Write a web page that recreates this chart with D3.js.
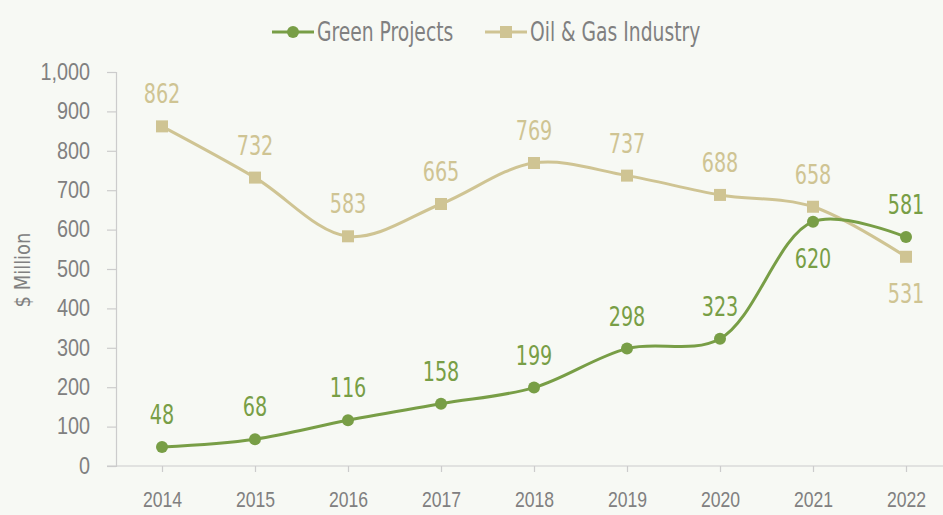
<!DOCTYPE html>
<html>
<head>
<meta charset="utf-8">
<script src="https://cdn.jsdelivr.net/npm/d3@7"></script>
<style>
  body { margin: 0; background: #f7f9f4; }
  svg { display: block; font-family: "Liberation Sans Narrow", "DejaVu Sans Condensed", sans-serif; }
</style>
</head>
<body>
<svg id="chart" width="943" height="515"></svg>
<script>
const years = ["2014", "2015", "2016", "2017", "2018", "2019", "2020", "2021", "2022"];
const green = [48, 68, 116, 158, 199, 298, 323, 620, 581];
const oil = [862, 732, 583, 665, 769, 737, 688, 658, 531];
const yTicks = [0, 100, 200, 300, 400, 500, 600, 700, 800, 900, 1000];

const greenColor = "#789e46";
const oilColor = "#cfc493";

const margin = { top: 72, left: 116, bottom: 49 };
const width = 943, height = 515;

const svg = d3.select("#chart");

// no condensed font like the original, so squeeze text horizontally
function squeeze(sel, k) {
  sel.each(function () {
    const w = this.getComputedTextLength();
    d3.select(this).attr("textLength", w * k).attr("lengthAdjust", "spacingAndGlyphs");
  });
}

const x = d3.scalePoint()
  .domain(years)
  .range([162, 906]);

const y = d3.scaleLinear()
  .domain([0, 1000])
  .range([466, 72]);

// axes
const yAxis = svg.append("g")
  .attr("transform", `translate(${margin.left},0)`)
  .call(d3.axisLeft(y).tickValues(yTicks).tickSize(9).tickPadding(17).tickFormat(d3.format(",")));
yAxis.select(".domain").attr("stroke", "#cccccc").attr("stroke-width", 1.2);
yAxis.selectAll(".tick line").attr("stroke", "#cccccc").attr("stroke-width", 1.2);
yAxis.selectAll("text").attr("fill", "#808080").style("font-size", "23px").call(squeeze, 0.86);

const xAxis = svg.append("g")
  .attr("transform", `translate(0,${y(0)})`)
  .call(d3.axisBottom(x).tickSize(6).tickPadding(19));
xAxis.select(".domain").attr("d", `M107,0H${width}`).attr("stroke", "#cccccc").attr("stroke-width", 1.2);
xAxis.selectAll(".tick line").attr("stroke", "#cccccc").attr("stroke-width", 1.2);
xAxis.selectAll("text").attr("fill", "#808080").style("font-size", "22px").call(squeeze, 0.8);

svg.append("text")
  .attr("transform", `translate(30,270) rotate(-90)`)
  .attr("text-anchor", "middle")
  .attr("fill", "#808080")
  .style("font-size", "21px")
  .text("$ Million")
  .call(squeeze, 0.95);

const line = d3.line()
  .x((d, i) => x(years[i]))
  .y(d => y(d))
  .curve(d3.curveCatmullRom.alpha(0.5));

// oil series
svg.append("path")
  .attr("d", line(oil))
  .attr("fill", "none")
  .attr("stroke", oilColor)
  .attr("stroke-width", 3);

svg.selectAll(".oil-pt")
  .data(oil)
  .enter().append("rect")
  .attr("x", (d, i) => x(years[i]) - 6)
  .attr("y", d => y(d) - 6)
  .attr("width", 12)
  .attr("height", 12)
  .attr("fill", oilColor);

// green series
svg.append("path")
  .attr("d", line(green))
  .attr("fill", "none")
  .attr("stroke", greenColor)
  .attr("stroke-width", 3);

svg.selectAll(".green-pt")
  .data(green)
  .enter().append("circle")
  .attr("cx", (d, i) => x(years[i]))
  .attr("cy", d => y(d))
  .attr("r", 6)
  .attr("fill", greenColor);

// labels
svg.selectAll(".oil-lbl")
  .data(oil)
  .enter().append("text")
  .attr("x", (d, i) => x(years[i]))
  .attr("y", (d, i) => i === 8 ? y(d) + 46 : y(d) - 23)
  .attr("text-anchor", "middle")
  .attr("fill", oilColor)
  .style("font-size", "26px")
  .text(d => d)
  .call(squeeze, 0.82);

svg.selectAll(".green-lbl")
  .data(green)
  .enter().append("text")
  .attr("x", (d, i) => x(years[i]))
  .attr("y", (d, i) => i === 7 ? y(d) + 46 : y(d) - 23)
  .attr("text-anchor", "middle")
  .attr("fill", greenColor)
  .style("font-size", "26px")
  .text(d => d)
  .call(squeeze, 0.82);

// legend
const legend = [
  { name: "Green Projects", color: greenColor, shape: "circle", x: 272 },
  { name: "Oil & Gas Industry", color: oilColor, shape: "square", x: 485 }
];
const lg = svg.selectAll(".lg").data(legend).enter().append("g")
  .attr("transform", d => `translate(${d.x},32)`);
lg.append("line")
  .attr("x1", 0).attr("x2", 42)
  .attr("stroke", d => d.color).attr("stroke-width", 3);
lg.filter(d => d.shape === "circle").append("circle")
  .attr("cx", 21).attr("r", 6).attr("fill", d => d.color);
lg.filter(d => d.shape === "square").append("rect")
  .attr("x", 15).attr("y", -6).attr("width", 12).attr("height", 12).attr("fill", d => d.color);
lg.append("text")
  .attr("x", 45).attr("y", 9)
  .attr("fill", "#808080")
  .style("font-size", "26px")
  .text(d => d.name)
  .call(squeeze, 0.8);
</script>
</body>
</html>
